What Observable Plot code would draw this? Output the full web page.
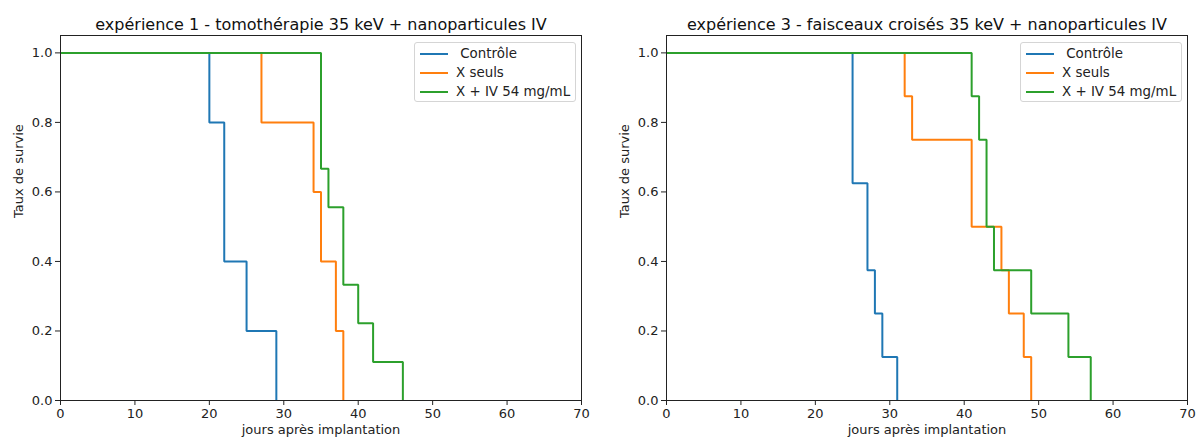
<!DOCTYPE html>
<html>
<head>
<meta charset="utf-8">
<script src="https://cdn.jsdelivr.net/npm/d3@7"></script>
<script src="https://cdn.jsdelivr.net/npm/@observablehq/plot@0.6"></script>
<style>
  body { margin: 0; background: #fff; font-family: "DejaVu Sans", sans-serif; }
  #wrap { position: relative; width: 1197px; height: 441px; overflow: hidden; }
  .panel { position: absolute; top: 0; }
  .legend { position: absolute; background: rgba(255,255,255,0.8); border: 1px solid #d5d5d5; border-radius: 3px; box-sizing: border-box; font-size: 13.4px; color: #222; }
  .legend .sw { position: absolute; width: 28px; height: 0; border-top: 2px solid; }
  .legend .lab { position: absolute; line-height: 19px; white-space: pre; }
</style>
</head>
<body>
<div id="wrap"></div>
<script>
// ---- data ----
const seriesNames = [" Contrôle", "X seuls", "X + IV 54 mg/mL"];
const seriesColors = ["#1f77b4", "#ff7f0e", "#2ca02c"];

const titles = [
  "expérience 1 - tomothérapie 35 keV + nanoparticules IV",
  "expérience 3 - faisceaux croisés 35 keV + nanoparticules IV"
];
const xLabel = "jours après implantation";
const yLabel = "Taux de survie";
const xTicks = [0, 10, 20, 30, 40, 50, 60, 70];
const yTicks = [0, 0.2, 0.4, 0.6, 0.8, 1.0];

// experiment 1
const exp1ControleJours = [0, 20, 22, 25, 29];
const exp1ControleSurvie = [1, 0.8, 0.4, 0.2, 0];
const exp1XJours = [0, 27, 34, 35, 37, 38];
const exp1XSurvie = [1, 0.8, 0.6, 0.4, 0.2, 0];
const exp1XIVJours = [0, 35, 36, 38, 40, 42, 46];
const exp1XIVSurvie = [1, 0.667, 0.556, 0.333, 0.222, 0.111, 0];

// experiment 3
const exp3ControleJours = [0, 25, 27, 28, 29, 31];
const exp3ControleSurvie = [1, 0.625, 0.375, 0.25, 0.125, 0];
const exp3XJours = [0, 32, 33, 41, 45, 46, 48, 49];
const exp3XSurvie = [1, 0.875, 0.75, 0.5, 0.375, 0.25, 0.125, 0];
const exp3XIVJours = [0, 41, 42, 43, 44, 49, 54, 57];
const exp3XIVSurvie = [1, 0.875, 0.75, 0.5, 0.375, 0.25, 0.125, 0];

function rows(jours, survie, name) {
  return jours.map((j, i) => ({jour: j, survie: survie[i], serie: name}));
}

const panels = [
  {
    title: titles[0],
    left: 0, width: 600, marginLeft: 60, marginRight: 19,
    data: [
      rows(exp1ControleJours, exp1ControleSurvie, seriesNames[0]),
      rows(exp1XJours, exp1XSurvie, seriesNames[1]),
      rows(exp1XIVJours, exp1XIVSurvie, seriesNames[2])
    ],
    legend: {left: 414, top: 42, width: 162, height: 60}
  },
  {
    title: titles[1],
    left: 600, width: 597, marginLeft: 66, marginRight: 10,
    data: [
      rows(exp3ControleJours, exp3ControleSurvie, seriesNames[0]),
      rows(exp3XJours, exp3XSurvie, seriesNames[1]),
      rows(exp3XIVJours, exp3XIVSurvie, seriesNames[2])
    ],
    legend: {left: 1020, top: 42, width: 162, height: 60}
  }
];

const wrap = document.getElementById("wrap");

for (const p of panels) {
  const chart = Plot.plot({
    width: p.width,
    height: 441,
    marginLeft: p.marginLeft,
    marginRight: p.marginRight,
    marginTop: 35,
    marginBottom: 41,
    style: {fontFamily: "DejaVu Sans, sans-serif", fontSize: "13px", color: "#222", background: "#fff"},
    x: {domain: [0, 70], ticks: xTicks, label: null},
    y: {domain: [0, 1.05], ticks: yTicks, label: null, tickFormat: d3.format(".1f")},
    marks: [
      Plot.axisX({ticks: xTicks, tickSize: 5, tickPadding: 3, label: null, fontSize: 13, stroke: "#222"}),
      Plot.axisY({ticks: yTicks, tickSize: 5, tickPadding: 3, label: null, tickFormat: d3.format(".1f"), fontSize: 13, stroke: "#222"}),
      ...p.data.map((d, i) => Plot.line(d, {
        x: "jour", y: "survie", curve: "step-after",
        stroke: seriesColors[i], strokeWidth: 2, strokeLinejoin: "miter", strokeLinecap: "butt"
      })),
      Plot.frame({stroke: "#222", strokeWidth: 1}),
      Plot.text([p.title], {frameAnchor: "top", dy: -17, fontSize: 16, fill: "#111"}),
      Plot.text([xLabel], {frameAnchor: "bottom", dy: 33, fontSize: 13, fill: "#222"}),
      Plot.text([yLabel], {frameAnchor: "left", dx: -42, rotate: -90, fontSize: 13, fill: "#222"})
    ]
  });
  const div = document.createElement("div");
  div.className = "panel";
  div.style.left = p.left + "px";
  div.appendChild(chart);
  wrap.appendChild(div);

  const lg = document.createElement("div");
  lg.className = "legend";
  Object.assign(lg.style, {left: p.legend.left + "px", top: p.legend.top + "px", width: p.legend.width + "px", height: p.legend.height + "px"});
  seriesNames.forEach((name, i) => {
    const sw = document.createElement("div");
    sw.className = "sw";
    sw.style.borderTopColor = seriesColors[i];
    sw.style.left = "5px";
    sw.style.top = (10 + i * 19) + "px";
    lg.appendChild(sw);
    const lab = document.createElement("div");
    lab.className = "lab";
    lab.textContent = name;
    lab.style.left = "41px";
    lab.style.top = (1 + i * 19) + "px";
    lg.appendChild(lab);
  });
  wrap.appendChild(lg);
}
</script>
</body>
</html>
